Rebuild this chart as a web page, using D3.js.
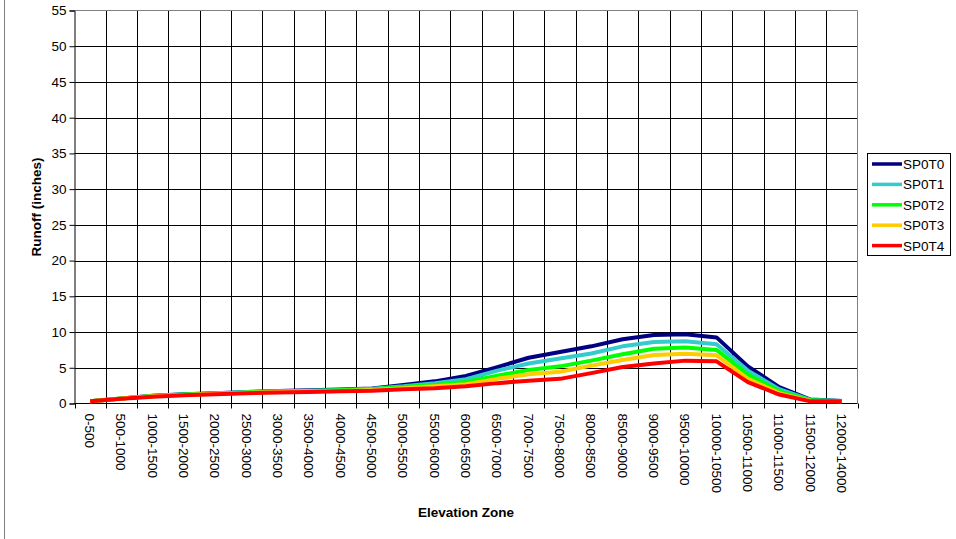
<!DOCTYPE html>
<html><head><meta charset="utf-8">
<script src="https://cdn.jsdelivr.net/npm/d3@7"></script>
<style>body{margin:0;background:#fff}svg{display:block;font-family:"Liberation Sans",Arial,sans-serif}</style>
</head><body><svg id="c" width="956" height="539"></svg>
<script>
const categories=["0-500","500-1000","1000-1500","1500-2000","2000-2500","2500-3000","3000-3500","3500-4000","4000-4500","4500-5000","5000-5500","5500-6000","6000-6500","6500-7000","7000-7500","7500-8000","8000-8500","8500-9000","9000-9500","9500-10000","10000-10500","10500-11000","11000-11500","11500-12000","12000-14000"];
const seriesNames=["SP0T0","SP0T1","SP0T2","SP0T3","SP0T4"];
const colors=["#000080","#33CCCC","#00FF00","#FFCC00","#FF0000"];
const SP0T0=[0.3,0.7,1.1,1.3,1.45,1.6,1.75,1.85,1.95,2.1,2.6,3.1,3.85,5.1,6.4,7.2,8.0,9.0,9.6,9.7,9.25,5.2,2.3,0.55,0.35];
const SP0T1=[0.3,0.7,1.05,1.25,1.4,1.6,1.7,1.8,1.9,2.05,2.4,2.85,3.4,4.6,5.6,6.3,7.0,8.0,8.6,8.7,8.3,4.6,2.0,0.5,0.35];
const SP0T2=[0.3,0.7,1.05,1.25,1.4,1.55,1.7,1.75,1.85,2.0,2.3,2.6,3.0,3.9,4.7,5.2,6.0,6.9,7.65,7.85,7.5,4.05,1.7,0.45,0.3];
const SP0T3=[0.3,0.7,1.0,1.2,1.35,1.5,1.6,1.7,1.75,1.9,2.15,2.4,2.7,3.45,4.1,4.45,5.3,6.1,6.8,6.95,6.75,3.45,1.45,0.35,0.3];
const SP0T4=[0.3,0.65,0.95,1.15,1.3,1.45,1.55,1.6,1.7,1.8,2.0,2.15,2.4,2.85,3.2,3.45,4.25,5.1,5.6,6.0,5.9,3.0,1.25,0.3,0.3];
const yTicks=[0,5,10,15,20,25,30,35,40,45,50,55];
const seriesData=[SP0T0,SP0T1,SP0T2,SP0T3,SP0T4];

const svg=d3.select("#c");
const L=74.5,R=857.5,T=10.5,B=403.5;
const x=d3.scaleBand().domain(categories).range([L,R]);
const y=d3.scaleLinear().domain([0,55]).range([B,T]);

svg.append("line").attr("x1",4.5).attr("x2",4.5).attr("y1",0).attr("y2",539).attr("stroke","#808080").attr("stroke-width",1);

const g=svg.append("g");
g.selectAll(".hg").data(yTicks.filter(d=>d>0&&d<55)).join("line")
 .attr("x1",L).attr("x2",R).attr("y1",d=>Math.round(y(d))+0.5).attr("y2",d=>Math.round(y(d))+0.5)
 .attr("stroke","#000").attr("stroke-width",1);
g.selectAll(".vg").data(categories.slice(1)).join("line")
 .attr("x1",d=>Math.round(x(d))+0.5).attr("x2",d=>Math.round(x(d))+0.5).attr("y1",T).attr("y2",B)
 .attr("stroke","#000").attr("stroke-width",1);
svg.append("path").attr("d",`M${L},${T}H${R}V${B}`).attr("fill","none").attr("stroke","#808080").attr("stroke-width",1);

const ya=svg.append("g").attr("transform",`translate(${L},0)`)
 .call(d3.axisLeft(y).tickValues(yTicks).tickSize(5).tickPadding(3));
ya.select(".domain").attr("stroke","#000");
ya.selectAll("text").attr("font-size",13.5).attr("fill","#000").attr("font-family","Liberation Sans, Arial, sans-serif");

const xa=svg.append("g").attr("transform",`translate(0,${B})`);
xa.append("line").attr("x1",L).attr("x2",R).attr("y1",0).attr("y2",0).attr("stroke","#000");
const bounds=d3.range(categories.length+1).map(i=>L+i*x.step());
xa.selectAll(".tk").data(bounds).join("line")
 .attr("x1",d=>Math.round(d)+0.5).attr("x2",d=>Math.round(d)+0.5).attr("y1",0).attr("y2",5).attr("stroke","#000");
xa.selectAll(".lb").data(categories).join("text")
 .attr("transform",d=>`translate(${x(d)+x.bandwidth()/2-5},${10}) rotate(90)`)
 .attr("font-size",13.5).attr("fill","#000").attr("text-anchor","start")
 .text(d=>d);

svg.append("text").attr("x",466).attr("y",517).attr("text-anchor","middle").attr("font-weight","bold").attr("font-size",13.5).text("Elevation Zone");
svg.append("text").attr("transform","translate(41,207) rotate(-90)").attr("text-anchor","middle").attr("font-weight","bold").attr("font-size",13.5).text("Runoff (inches)");

const line=d3.line().x((d,i)=>x(categories[i])+x.bandwidth()/2).y(d=>y(d));
svg.append("g").selectAll("path").data(seriesData).join("path")
 .attr("d",d=>line(d)).attr("fill","none").attr("stroke",(d,i)=>colors[i]).attr("stroke-width",4).attr("stroke-linejoin","round");

const lg=svg.append("g");
lg.append("rect").attr("x",867.5).attr("y",153.5).attr("width",83).attr("height",102).attr("fill","#fff").attr("stroke","#000");
const items=lg.selectAll(".it").data(seriesNames).join("g").attr("transform",(d,i)=>`translate(0,${164+i*20.4})`);
items.append("line").attr("x1",872).attr("x2",902).attr("y1",0).attr("y2",0).attr("stroke",(d,i)=>colors[i]).attr("stroke-width",3.5);
items.append("text").attr("x",903).attr("y",5).attr("font-size",13.5).attr("fill","#000").text(d=>d);
</script></body></html>
